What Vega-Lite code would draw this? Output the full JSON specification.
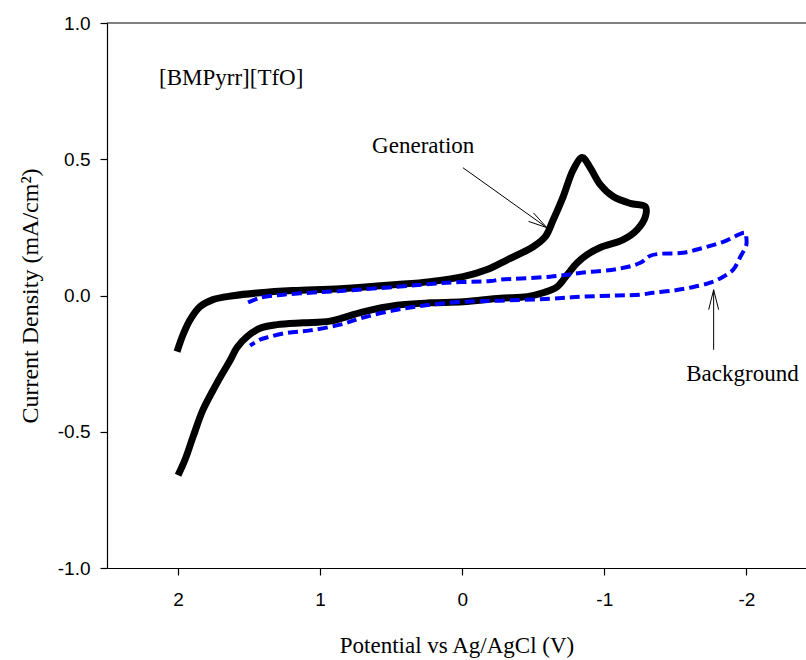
{
  "$schema": "https://vega.github.io/schema/vega-lite/v6.json",
  "width": 699,
  "height": 545,
  "autosize": {"type": "none"},
  "padding": {"left": 107, "top": 23, "right": 0, "bottom": 92},
  "background": "white",
  "config": {
    "view": {"stroke": null},
    "axis": {
      "grid": false,
      "domainColor": "black",
      "domainWidth": 1.2,
      "tickColor": "black",
      "tickWidth": 1.2,
      "tickSize": 7,
      "labelFont": "Liberation Sans",
      "labelFontSize": 19,
      "labelColor": "black",
      "titleFont": "Liberation Serif",
      "titleFontSize": 23,
      "titleFontWeight": "normal",
      "titleColor": "black"
    }
  },
  "datasets": {
    "generation": [
      {"o": 1, "E": 2.007, "j": -0.206},
      {"o": 2, "E": 1.965, "j": -0.144},
      {"o": 3, "E": 1.915, "j": -0.089},
      {"o": 4, "E": 1.845, "j": -0.041},
      {"o": 5, "E": 1.754, "j": -0.015},
      {"o": 6, "E": 1.613, "j": -0.001},
      {"o": 7, "E": 1.423, "j": 0.010},
      {"o": 8, "E": 1.190, "j": 0.018},
      {"o": 9, "E": 0.859, "j": 0.025},
      {"o": 10, "E": 0.458, "j": 0.040},
      {"o": 11, "E": 0.225, "j": 0.051},
      {"o": 12, "E": -0.007, "j": 0.069},
      {"o": 13, "E": -0.176, "j": 0.095},
      {"o": 14, "E": -0.317, "j": 0.131},
      {"o": 15, "E": -0.500, "j": 0.179},
      {"o": 16, "E": -0.585, "j": 0.216},
      {"o": 17, "E": -0.641, "j": 0.278},
      {"o": 18, "E": -0.711, "j": 0.363},
      {"o": 19, "E": -0.782, "j": 0.462},
      {"o": 20, "E": -0.845, "j": 0.506},
      {"o": 21, "E": -0.901, "j": 0.469},
      {"o": 22, "E": -0.972, "j": 0.407},
      {"o": 23, "E": -1.063, "j": 0.363},
      {"o": 24, "E": -1.183, "j": 0.338},
      {"o": 25, "E": -1.289, "j": 0.326},
      {"o": 26, "E": -1.289, "j": 0.289},
      {"o": 27, "E": -1.232, "j": 0.242},
      {"o": 28, "E": -1.134, "j": 0.205},
      {"o": 29, "E": -0.972, "j": 0.176},
      {"o": 30, "E": -0.880, "j": 0.150},
      {"o": 31, "E": -0.810, "j": 0.120},
      {"o": 32, "E": -0.739, "j": 0.076},
      {"o": 33, "E": -0.669, "j": 0.032},
      {"o": 34, "E": -0.570, "j": 0.010},
      {"o": 35, "E": -0.458, "j": -0.004},
      {"o": 36, "E": -0.268, "j": -0.010},
      {"o": 37, "E": -0.007, "j": -0.023},
      {"o": 38, "E": 0.225, "j": -0.027},
      {"o": 39, "E": 0.458, "j": -0.036},
      {"o": 40, "E": 0.697, "j": -0.060},
      {"o": 41, "E": 0.930, "j": -0.094},
      {"o": 42, "E": 1.120, "j": -0.100},
      {"o": 43, "E": 1.303, "j": -0.107},
      {"o": 44, "E": 1.423, "j": -0.120},
      {"o": 45, "E": 1.514, "j": -0.151},
      {"o": 46, "E": 1.585, "j": -0.191},
      {"o": 47, "E": 1.630, "j": -0.235},
      {"o": 48, "E": 1.675, "j": -0.275},
      {"o": 49, "E": 1.730, "j": -0.325},
      {"o": 50, "E": 1.824, "j": -0.419},
      {"o": 51, "E": 1.894, "j": -0.518},
      {"o": 52, "E": 1.951, "j": -0.603},
      {"o": 53, "E": 2.000, "j": -0.660}
    ],
    "background": [
      {"o": 1, "E": 1.507, "j": -0.026},
      {"o": 2, "E": 1.423, "j": -0.008},
      {"o": 3, "E": 1.261, "j": 0.003},
      {"o": 4, "E": 1.070, "j": 0.010},
      {"o": 5, "E": 0.880, "j": 0.016},
      {"o": 6, "E": 0.458, "j": 0.032},
      {"o": 7, "E": 0.106, "j": 0.047},
      {"o": 8, "E": -0.197, "j": 0.053},
      {"o": 9, "E": -0.268, "j": 0.058},
      {"o": 10, "E": -0.620, "j": 0.069},
      {"o": 11, "E": -0.852, "j": 0.084},
      {"o": 12, "E": -1.092, "j": 0.097},
      {"o": 13, "E": -1.254, "j": 0.120},
      {"o": 14, "E": -1.324, "j": 0.146},
      {"o": 15, "E": -1.394, "j": 0.153},
      {"o": 16, "E": -1.556, "j": 0.157},
      {"o": 17, "E": -1.697, "j": 0.175},
      {"o": 18, "E": -1.838, "j": 0.197},
      {"o": 19, "E": -1.993, "j": 0.230},
      {"o": 20, "E": -2.000, "j": 0.212},
      {"o": 21, "E": -2.000, "j": 0.186},
      {"o": 22, "E": -1.958, "j": 0.142},
      {"o": 23, "E": -1.908, "j": 0.095},
      {"o": 24, "E": -1.838, "j": 0.069},
      {"o": 25, "E": -1.746, "j": 0.047},
      {"o": 26, "E": -1.606, "j": 0.029},
      {"o": 27, "E": -1.486, "j": 0.018},
      {"o": 28, "E": -1.345, "j": 0.010},
      {"o": 29, "E": -1.254, "j": 0.003},
      {"o": 30, "E": -1.092, "j": 0.000},
      {"o": 31, "E": -0.852, "j": -0.004},
      {"o": 32, "E": -0.620, "j": -0.012},
      {"o": 33, "E": -0.268, "j": -0.019},
      {"o": 34, "E": -0.007, "j": -0.023},
      {"o": 35, "E": 0.225, "j": -0.034},
      {"o": 36, "E": 0.458, "j": -0.052},
      {"o": 37, "E": 0.697, "j": -0.081},
      {"o": 38, "E": 0.859, "j": -0.107},
      {"o": 39, "E": 1.070, "j": -0.128},
      {"o": 40, "E": 1.232, "j": -0.137},
      {"o": 41, "E": 1.352, "j": -0.151},
      {"o": 42, "E": 1.423, "j": -0.162},
      {"o": 43, "E": 1.493, "j": -0.184}
    ],
    "arrows": [
      {"x": -0.005, "y": 0.469, "x2": -0.596, "y2": 0.249},
      {"x": -0.467, "y": 0.272, "x2": -0.596, "y2": 0.249},
      {"x": -0.502, "y": 0.303, "x2": -0.596, "y2": 0.249},
      {"x": -1.77, "y": -0.199, "x2": -1.77, "y2": 0.021},
      {"x": -1.735, "y": -0.052, "x2": -1.77, "y2": 0.021},
      {"x": -1.805, "y": -0.052, "x2": -1.77, "y2": 0.021}
    ],
    "labels": [
      {"text": "[BMPyrr][TfO]", "E": 2.134, "j": 0.774},
      {"text": "Generation", "E": 0.634, "j": 0.524},
      {"text": "Background", "E": -1.577, "j": -0.315}
    ]
  },
  "layer": [
    {
      "data": {"name": "generation"},
      "mark": {"type": "line", "color": "black", "strokeWidth": 7, "interpolate": "catmull-rom", "strokeJoin": "round", "strokeCap": "butt", "clip": true},
      "encoding": {
        "x": {
          "field": "E", "type": "quantitative",
          "scale": {"domain": [2.5, -2.42], "nice": false, "zero": false},
          "axis": {"values": [2, 1, 0, -1, -2], "format": "d", "labelExpr": "replace(datum.label, '−', '-')", "title": "Potential vs Ag/AgCl (V)", "labelPadding": 15, "titlePadding": 25}
        },
        "y": {
          "field": "j", "type": "quantitative",
          "scale": {"domain": [-1, 1], "nice": false},
          "axis": {"values": [-1, -0.5, 0, 0.5, 1], "format": ".1f", "labelExpr": "replace(datum.label, '−', '-')", "title": "Current Density (mA/cm²)", "titleFontSize": 24, "labelPadding": 10, "titlePadding": 15}
        },
        "order": {"field": "o", "type": "quantitative"}
      }
    },
    {
      "data": {"name": "background"},
      "mark": {"type": "line", "color": "#0000FF", "strokeWidth": 4, "strokeDash": [10, 5], "interpolate": "catmull-rom", "strokeJoin": "round", "clip": true},
      "encoding": {
        "x": {"field": "E", "type": "quantitative"},
        "y": {"field": "j", "type": "quantitative"},
        "order": {"field": "o", "type": "quantitative"}
      }
    },
    {
      "data": {"name": "arrows"},
      "mark": {"type": "rule", "color": "black", "strokeWidth": 1},
      "encoding": {
        "x": {"field": "x", "type": "quantitative"},
        "y": {"field": "y", "type": "quantitative"},
        "x2": {"field": "x2"},
        "y2": {"field": "y2"}
      }
    },
    {
      "data": {"name": "labels"},
      "mark": {"type": "text", "font": "Liberation Serif", "fontSize": 23, "align": "left", "baseline": "alphabetic", "color": "black"},
      "encoding": {
        "x": {"field": "E", "type": "quantitative"},
        "y": {"field": "j", "type": "quantitative"},
        "text": {"field": "text"}
      }
    },
    {
      "data": {"values": [{"j": 1}]},
      "mark": {"type": "rule", "color": "black", "strokeWidth": 1.2},
      "encoding": {
        "y": {"field": "j", "type": "quantitative"}
      }
    }
  ]
}
